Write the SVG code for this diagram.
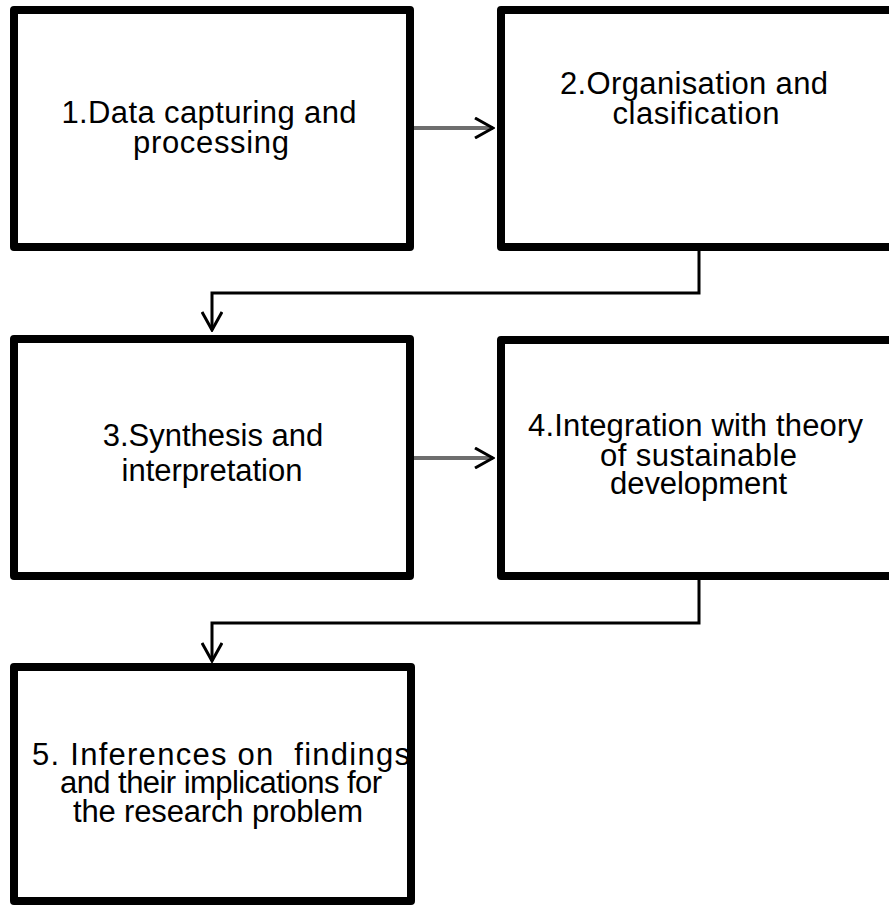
<svg xmlns="http://www.w3.org/2000/svg" width="889" height="906" viewBox="0 0 889 906">
<style>
.box{fill:#fff;stroke:#000;stroke-width:8;stroke-linejoin:round}
.lbl{font-family:"Liberation Sans",Arial,sans-serif;font-size:31px;fill:#000;text-anchor:middle}
.flow{fill:none;stroke:#000;stroke-width:3}
.gray{fill:none;stroke:#6e6e6e;stroke-width:4}
</style>
<defs>
<marker id="chev" viewBox="0 0 22 22" refX="20" refY="11" markerWidth="22" markerHeight="22" markerUnits="userSpaceOnUse" orient="auto">
<path d="M2,1 L20,11 L2,21" fill="none" stroke="#000" stroke-width="3"/>
</marker>
</defs>
<rect width="889" height="906" fill="#fff"/>
<g id="connectors">
<line class="gray" x1="414" y1="128" x2="493" y2="128" marker-end="url(#chev)"/>
<line class="gray" x1="414" y1="458" x2="493" y2="458" marker-end="url(#chev)"/>
<polyline class="flow" points="699,251 699,293 212,293 212,330" marker-end="url(#chev)"/>
<polyline class="flow" points="699,580 699,623 212,623 212,661" marker-end="url(#chev)"/>
</g>
<g id="node1">
<rect class="box" x="14" y="10" width="396" height="237"/>
<text class="lbl" x="209" y="123" textLength="295">1.Data capturing and</text>
<text class="lbl" x="211" y="153" textLength="156">processing</text>
</g>
<g id="node2">
<rect class="box" x="501" y="10" width="396" height="237"/>
<text class="lbl" x="694" y="94" textLength="268">2.Organisation and</text>
<text class="lbl" x="696" y="123.5" textLength="167">clasification</text>
</g>
<g id="node3">
<rect class="box" x="14" y="339" width="396" height="237"/>
<text class="lbl" x="213" y="446">3.Synthesis and</text>
<text class="lbl" x="212" y="481">interpretation</text>
</g>
<g id="node4">
<rect class="box" x="501" y="340" width="396" height="236"/>
<text class="lbl" x="695.5" y="436" textLength="335">4.Integration with theory</text>
<text class="lbl" x="698.5" y="466" textLength="197">of sustainable</text>
<text class="lbl" x="698.5" y="494" textLength="177">development</text>
</g>
<g id="node5">
<rect class="box" x="14" y="667" width="397" height="234"/>
<text class="lbl" x="221" y="765" textLength="378" xml:space="preserve">5. Inferences on  findings</text>
<text class="lbl" x="221" y="793" textLength="322">and their implications for</text>
<text class="lbl" x="218" y="821.5" textLength="290">the research problem</text>
</g>
</svg>
